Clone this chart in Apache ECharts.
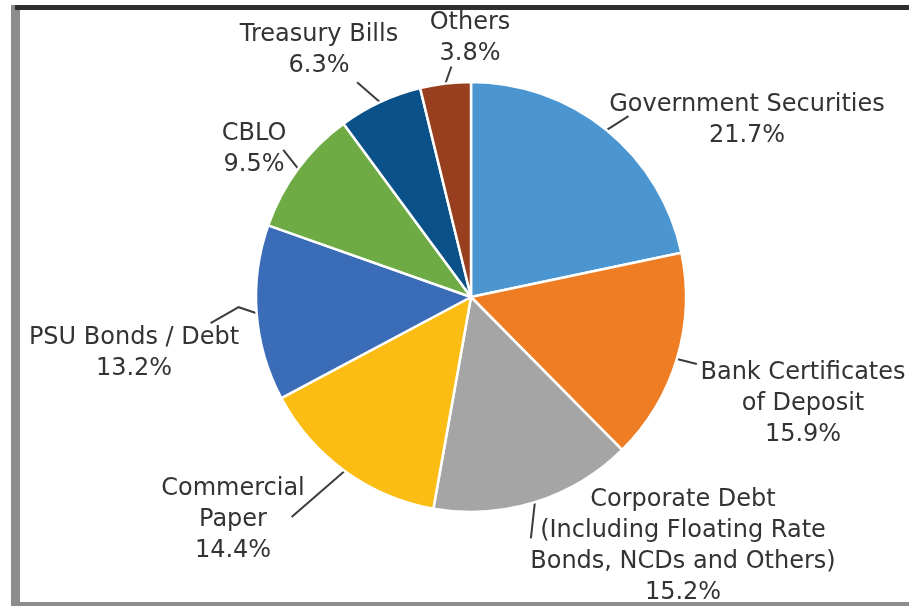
<!DOCTYPE html>
<html>
<head>
<meta charset="utf-8">
<style>
  html, body { margin: 0; padding: 0; background: #ffffff; }
  #chart { width: 909px; height: 606px; }
</style>
<script src="https://cdn.jsdelivr.net/npm/echarts@6/dist/echarts.min.js"></script>
</head>
<body>
<div id="chart"></div>
<script>
// Portfolio composition by asset class (% of total)
const categories = [
  'Government Securities',
  'Bank Certificates\nof Deposit',
  'Corporate Debt\n(Including Floating Rate\nBonds, NCDs and Others)',
  'Commercial\nPaper',
  'PSU Bonds / Debt',
  'CBLO',
  'Treasury Bills',
  'Others'
];
const shares = [21.7, 15.9, 15.2, 14.4, 13.2, 9.5, 6.3, 3.8];

// Slice colours, in category order
const sliceColors = ['#4b96d1', '#ee7d23', '#a5a5a5', '#fbbd14', '#3b6cb8', '#6eab45', '#0a5189', '#983f1f'];

// Label block centres and leader-line bends (offsets from the slice edge)
const labelSpots = [[747, 120], [803, 404], [683, 546], [233, 520], [134, 353], [254, 149], [319, 50], [470, 38]];
const leaderBends = [
  [[22, -14]],
  [[20, 5]],
  [[-4, 36]],
  [[-53, 46]],
  [[-18, -6], [-46, 10]],
  [[-15, -19]],
  [[-23, -20]],
  [[6, -17]]
];

const center = [471, 297];
const radius = 215;

const chart = echarts.init(document.getElementById('chart'), null, { renderer: 'canvas' });

const total = shares.reduce((a, b) => a + b, 0);
function edgePoint(i) {
  let before = 0;
  for (let k = 0; k < i; k++) before += shares[k];
  const mid = (before + shares[i] / 2) / total * Math.PI * 2;
  return [center[0] + radius * Math.sin(mid), center[1] - radius * Math.cos(mid)];
}

chart.setOption({
  animation: false,
  backgroundColor: '#ffffff',
  graphic: [
    { type: 'rect', shape: { x: 11, y: 5, width: 9, height: 601 }, style: { fill: '#8c8c8c' } },
    { type: 'rect', shape: { x: 15, y: 5, width: 894, height: 5 }, style: { fill: '#2f2f2f' } },
    { type: 'rect', shape: { x: 11, y: 602, width: 898, height: 4 }, style: { fill: '#8c8c8c' } }
  ],
  series: [{
    type: 'pie',
    center: center,
    radius: radius,
    startAngle: 90,
    clockwise: true,
    avoidLabelOverlap: false,
    itemStyle: { borderColor: '#ffffff', borderWidth: 2.5 },
    label: {
      show: true,
      position: 'outside',
      fontFamily: 'DejaVu Sans',
      fontSize: 24,
      lineHeight: 31,
      color: '#333333',
      align: 'center',
      formatter: p => p.name + '\n' + p.value.toFixed(1) + '%'
    },
    labelLine: {
      show: true,
      length: 10,
      length2: 10,
      lineStyle: { color: '#3c3c3c', width: 2 }
    },
    labelLayout: function (params) {
      const i = params.dataIndex;
      const start = (params.labelLinePoints && params.labelLinePoints[0]) || edgePoint(i);
      const pts = [[start[0], start[1]]];
      leaderBends[i].forEach(b => pts.push([start[0] + b[0], start[1] + b[1]]));
      return {
        x: labelSpots[i][0],
        y: labelSpots[i][1],
        align: 'center',
        verticalAlign: 'middle',
        labelLinePoints: pts
      };
    },
    data: categories.map((name, i) => ({
      name: name,
      value: shares[i],
      itemStyle: { color: sliceColors[i] }
    }))
  }]
});
</script>
</body>
</html>
